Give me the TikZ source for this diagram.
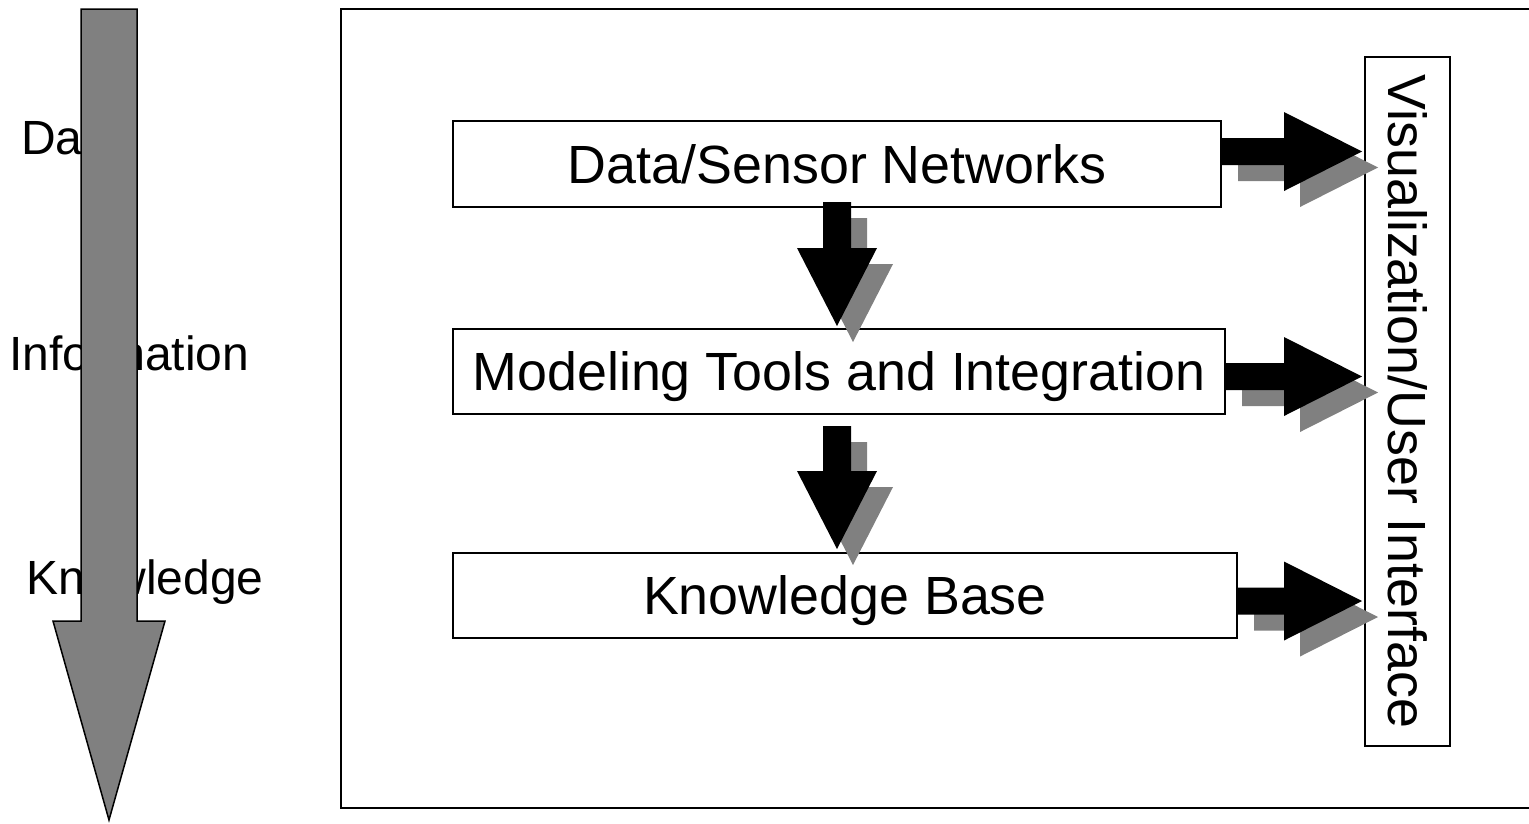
\documentclass[tikz,border=0pt]{standalone}
\usepackage{fontspec}
\setmainfont{Liberation Sans}
\usetikzlibrary{calc}

\definecolor{arrowgray}{HTML}{808080}

\tikzset{
  x=1pt, y=-1pt,
  box/.style={draw, line width=2pt, fill=white, inner sep=0pt,
    text height=38.5pt, text depth=0pt, font=\fontsize{53.8}{60}\selectfont},
  level/.style={anchor=west, inner sep=0pt, text height=34.5pt, text depth=0pt,
    font=\fontsize{48}{54}\selectfont},
  bigarrow/.style={fill=arrowgray, draw=black, line width=1.5pt, line join=miter},
  frame/.style={line width=2pt},
}

% block arrow pointing right: #1 start, #2 tip, #3 fill, #4 shadow offset
\newcommand\rightblock[4]{%
  \fill[#3] let \p1=#1, \p2=#2 in
    (\x1+#4,\y1+13.5pt-#4) -- (\x2-78pt+#4,\y1+13.5pt-#4) -- (\x2-78pt+#4,\y1+39.5pt-#4)
    -- (\x2+#4,\y1-#4) -- (\x2-78pt+#4,\y1-39.5pt-#4) -- (\x2-78pt+#4,\y1-13.5pt-#4)
    -- (\x1+#4,\y1-13.5pt-#4) -- cycle;}

% block arrow pointing down: #1 start, #2 tip, #3 fill, #4 shadow offset
\newcommand\downblock[4]{%
  \fill[#3] let \p1=#1, \p2=#2 in
    (\x1-14pt+#4,\y1-#4) -- (\x1+14pt+#4,\y1-#4) -- (\x1+14pt+#4,\y2+78pt-#4)
    -- (\x1+40pt+#4,\y2+78pt-#4) -- (\x1+#4,\y2-#4) -- (\x1-40pt+#4,\y2+78pt-#4)
    -- (\x1-14pt+#4,\y2+78pt-#4) -- cycle;}

\begin{document}
\begin{tikzpicture}
\useasboundingbox (0,0) rectangle (1529,823);

% data -> information -> knowledge scale
\node[level] (ldata) at (21,137) {Data};
\node[level] (linfo) at (9,353) {Information};
\node[level] (lknow) at (26,577) {Knowledge};
\draw[bigarrow] (81,9) -- (137,9) -- (137,621) -- (165,621) -- (109,820)
  -- (53,621) -- (81,621) -- cycle;

% outer frame (open on the right)
\draw[frame] (1540,9) -- (341,9) -- (341,808) -- (1540,808);

% blocks
\node[box, minimum width=768pt, minimum height=86pt] (ds) at (837,164) {Data/Sensor Networks};
\node[box, minimum width=772pt, minimum height=85pt] (mt) at (839,371.5) {Modeling Tools and Integration};
\node[box, minimum width=784pt, minimum height=85pt] (kb) at (845,595.5) {Knowledge Base};
\node[box, rotate=-90, minimum width=689pt, minimum height=85pt] (vis) at (1407.5,401.5)
  {Visualization/User Interface};

% arrow end points
\coordinate (r1s) at ($(ds.east)+(0,-12.5)$);
\coordinate (r2s) at ($(mt.east)+(0,5)$);
\coordinate (r3s) at ($(kb.east)+(0,5.5)$);
\coordinate (r1t) at ($(vis.south |- r1s)+(-2,0)$);
\coordinate (r2t) at ($(vis.south |- r2s)+(-2,0)$);
\coordinate (r3t) at ($(vis.south |- r3s)+(-2,0)$);
\coordinate (d1s) at ($(ds.south)+(0,-6)$);
\coordinate (d1t) at ($(d1s |- mt.north)+(0,-2)$);
\coordinate (d2s) at ($(d1s |- mt.south)+(0,11)$);
\coordinate (d2t) at ($(d2s |- kb.north)+(0,-3)$);

% shadows
\downblock{(d1s)}{(d1t)}{arrowgray}{16pt}
\downblock{(d2s)}{(d2t)}{arrowgray}{16pt}
\rightblock{(r1s)}{(r1t)}{arrowgray}{16pt}
\rightblock{(r2s)}{(r2t)}{arrowgray}{16pt}
\rightblock{(r3s)}{(r3t)}{arrowgray}{16pt}

% arrows
\downblock{(d1s)}{(d1t)}{black}{0pt}
\downblock{(d2s)}{(d2t)}{black}{0pt}
\rightblock{(r1s)}{(r1t)}{black}{0pt}
\rightblock{(r2s)}{(r2t)}{black}{0pt}
\rightblock{(r3s)}{(r3t)}{black}{0pt}
\end{tikzpicture}
\end{document}
